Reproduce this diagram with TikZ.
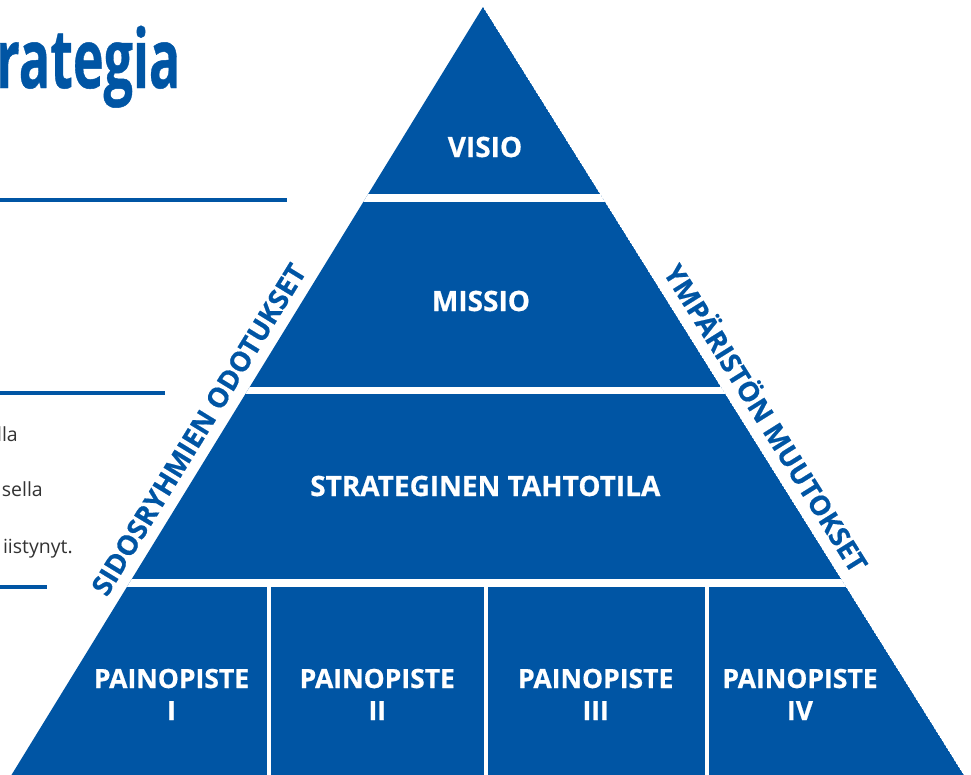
\documentclass[tikz,border=0pt]{standalone}
\usepackage{fontspec}
\usepackage{graphicx}
\setmainfont{Open Sans}
\newfontfamily\heavyfont{Open Sans}[BoldFeatures={FakeBold=0.6}]
\usetikzlibrary{calc}
\definecolor{pblue}{HTML}{0055A4}
\definecolor{bodygray}{HTML}{333333}
\begin{document}
\begin{tikzpicture}[x=1pt,y=-1pt,
  lbl/.style={text=white, font=\heavyfont\fontsize{28}{31}\selectfont\bfseries, inner sep=0pt, anchor=base},
  plbl/.style={lbl, font=\heavyfont\fontsize{26.5}{31}\selectfont\bfseries},
  side/.style={text=pblue, font=\heavyfont\fontsize{27.5}{31}\selectfont\bfseries, inner xsep=0pt, inner ysep=11pt, sloped, anchor=south},
  body/.style={text=bodygray, font=\fontsize{19.5}{24}\selectfont, inner sep=0pt, anchor=base east},
  rulebar/.style={draw=pblue, line width=4pt},
  gap/.style={fill=white}]
\useasboundingbox (0,0) rectangle (971,774);
\fill[white] (0,0) rectangle (971,774);
\coordinate (apex) at (483,7);
\coordinate (bl) at (-3.9,800);
\coordinate (br) at (979.4,800);
\begin{scope}
  \clip (apex) -- (bl) -- (br) -- cycle;
  \fill[pblue] (apex) -- (bl) -- (br) -- cycle;
  \fill[gap] (0,194) rectangle (971,202);
  \fill[gap] (0,387.3) rectangle (971,394.3);
  \fill[gap] (0,579) rectangle (971,587);
  \fill[gap] (267,587) rectangle (270.5,800);
  \fill[gap] (484.3,587) rectangle (487.8,800);
  \fill[gap] (705.3,587) rectangle (708.8,800);
\end{scope}
% level labels
\node[lbl] (visio) at (485,157) {VISIO};
\node[lbl] (missio) at (481,311) {MISSIO};
\node[lbl] (tahto) at (485.3,496) {STRATEGINEN TAHTOTILA};
\node[plbl] (p1) at (171.5,688) {PAINOPISTE};
\node[plbl] (p1n) at (171.5,720) {I};
\node[plbl] (p2) at (377.3,688) {PAINOPISTE};
\node[plbl] (p2n) at (377.3,720) {II};
\node[plbl] (p3) at (595.7,688) {PAINOPISTE};
\node[plbl] (p3n) at (595.7,720) {III};
\node[plbl] (p4) at (800,688) {PAINOPISTE};
\node[plbl] (p4n) at (800,720) {IV};
% side labels
\path (bl) -- (apex) node[side, pos=0.4533] (sid) {SIDOSRYHMIEN ODOTUKSET};
\path (apex) -- (br) node[side, pos=0.533] (ymp) {YMPÄRISTÖN MUUTOKSET};
% left page fragments
\node[anchor=base west, inner sep=0pt, text=pblue, font=\heavyfont\fontsize{82}{90}\selectfont\bfseries] (title) at (-4,88) {\scalebox{0.635}[1]{rategia}};
\draw[rulebar] (0,200) -- (287,200);
\draw[rulebar] (0,393) -- (165,393);
\draw[rulebar] (0,587) -- (46.7,587);
\node[body] (t1) at (18,441) {lla};
\node[body] (t2) at (43,496) {sella};
\node[body] (t3) at (73,553) {iistynyt.};
\end{tikzpicture}
\end{document}
